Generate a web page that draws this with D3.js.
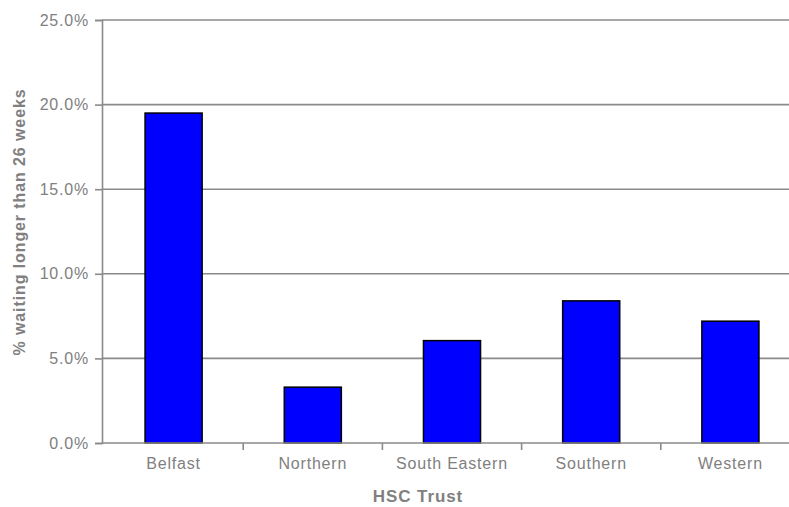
<!DOCTYPE html>
<html>
<head>
<meta charset="utf-8">
<script src="https://cdn.jsdelivr.net/npm/d3@7"></script>
<style>
body { margin: 0; background: #fff; }
svg { display: block; font-family: "Liberation Sans", Arial, sans-serif; }
.tick text { fill: #808080; font-size: 16px; letter-spacing: 0.8px; }
.axis-title { fill: #808080; font-size: 16px; font-weight: bold; letter-spacing: 0.9px; }
</style>
</head>
<body>
<div id="chart-area"></div>
<script>
// chart values
let trusts = ["Belfast", "Northern", "South Eastern", "Southern", "Western"];
let pctWaiting = [0.195, 0.033, 0.0605, 0.084, 0.072];
let yTicks = [0, 0.05, 0.10, 0.15, 0.20, 0.25];

let margin = {top: 20, right: -9, bottom: 64, left: 102};
let width = 789 - margin.left - margin.right;
let height = 507 - margin.top - margin.bottom;

let svg = d3.select("#chart-area").append("svg")
		.attr("width", 789)
		.attr("height", 507)
	.append("g")
		.attr("transform", "translate(" + margin.left + "," + margin.top + ")");

let xscale = d3.scaleBand().domain(trusts).range([2, width + 2])
	.paddingInner(0.59).paddingOuter(0.295);
let yscale = d3.scaleLinear().domain([0, 0.25]).range([height, 0]);

// gridlines
svg.append("g")
	.selectAll("line")
	.data(yTicks.slice(1))
	.enter().append("line")
	.attr("x1", 0).attr("x2", width)
	.attr("y1", d => yscale(d)).attr("y2", d => yscale(d))
	.style("stroke", "#8a8a8a")
	.style("stroke-width", 1.6);

// y axis
let yAxis = d3.axisLeft(yscale).tickValues(yTicks)
	.tickFormat(d3.format(".1%")).tickSize(7).tickPadding(6);
let yAxisGroup = svg.append("g").attr("class", "axis y-axis").call(yAxis);
yAxisGroup.selectAll("path, line").style("stroke", "#8a8a8a").style("stroke-width", 1.6);

// bars
svg.selectAll("rect.bar")
	.data(trusts)
	.enter().append("rect")
	.attr("class", "bar")
	.attr("x", d => xscale(d))
	.attr("width", xscale.bandwidth())
	.attr("y", (d, i) => yscale(pctWaiting[i]))
	.attr("height", (d, i) => height - yscale(pctWaiting[i]))
	.attr("fill", "#0000ff")
	.attr("stroke", "#000")
	.attr("stroke-width", 1.5);

// x axis: line along zero, ticks between categories
let xAxisGroup = svg.append("g").attr("class", "axis x-axis")
	.attr("transform", "translate(0," + height + ")");
xAxisGroup.append("line")
	.attr("x1", 0).attr("x2", width)
	.style("stroke", "#8a8a8a").style("stroke-width", 1.6);
xAxisGroup.selectAll("line.sep")
	.data(trusts.slice(1))
	.enter().append("line")
	.attr("class", "sep")
	.attr("x1", d => xscale(d) - xscale.step() * 0.295)
	.attr("x2", d => xscale(d) - xscale.step() * 0.295)
	.attr("y1", 0).attr("y2", 7)
	.style("stroke", "#8a8a8a").style("stroke-width", 1.6);
xAxisGroup.selectAll("text")
	.data(trusts)
	.enter().append("text")
	.attr("class", "tick")
	.attr("x", d => xscale(d) + xscale.bandwidth() / 2)
	.attr("y", 26)
	.style("text-anchor", "middle")
	.style("fill", "#808080")
	.style("font-size", "16px")
	.style("letter-spacing", "0.8px")
	.text(d => d);

// axis titles
svg.append("text")
	.attr("class", "axis-title")
	.attr("transform", "translate(" + (418 - margin.left) + "," + (502 - margin.top) + ")")
	.style("text-anchor", "middle")
	.style("font-size", "17px")
	.text("HSC Trust");

svg.append("text")
	.attr("class", "axis-title")
	.attr("transform", "translate(" + (25 - margin.left) + "," + (222 - margin.top) + ") rotate(-90)")
	.style("text-anchor", "middle")
	.text("% waiting longer than 26 weeks");
</script>
</body>
</html>
